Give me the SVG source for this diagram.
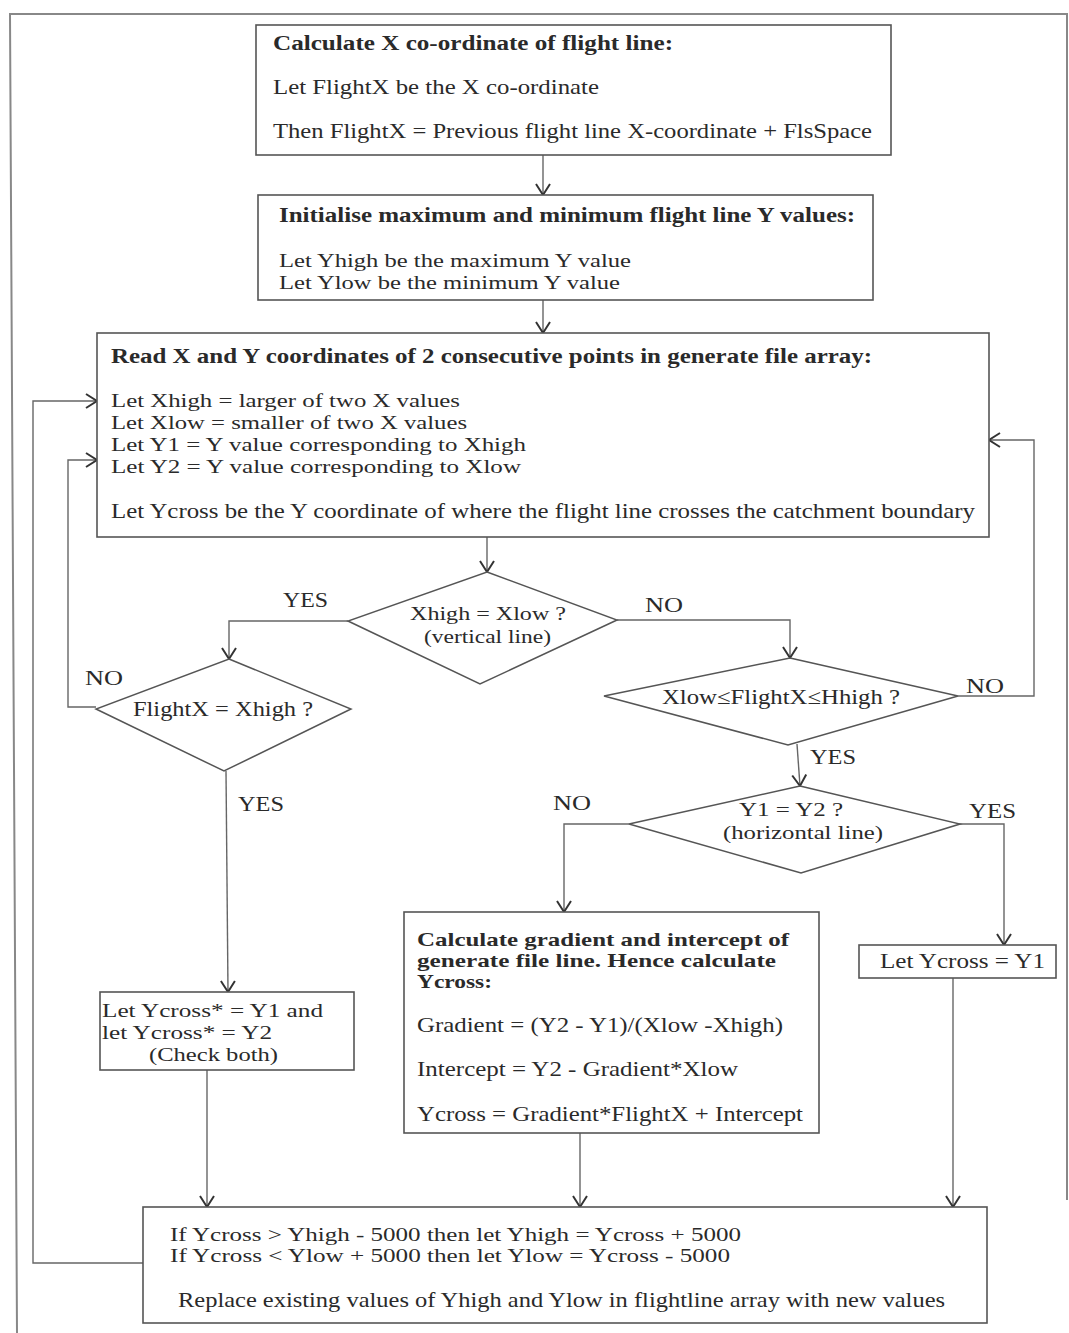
<svg xmlns="http://www.w3.org/2000/svg" width="1069" height="1333" viewBox="0 0 1069 1333">
<style>
  .box{fill:#fff;stroke:#555;stroke-width:1.6}
  .dia{fill:#fff;stroke:#555;stroke-width:1.5}
  .t{font-family:"Liberation Serif","Times New Roman",serif;font-size:21px;fill:#2a2a2a}
  .s{font-size:19.5px}
  .b{font-weight:bold;font-size:20px}
  .bs{font-size:19px}
  .lbl{font-family:"Liberation Serif","Times New Roman",serif;font-size:20px;fill:#2a2a2a}
  .c{fill:none;stroke:#666;stroke-width:1.4}
  .frame{fill:none;stroke:#888;stroke-width:2}
</style>
<defs>
  <marker id="ah" viewBox="-12 -8 14 16" refX="0" refY="0" markerWidth="14" markerHeight="16" markerUnits="userSpaceOnUse" orient="auto">
    <path d="M-11,-7 L0,0 L-11,7" fill="none" stroke="#333" stroke-width="2"/>
  </marker>
</defs>
<rect width="1069" height="1333" fill="#fff"/>
<path class="frame" d="M17,1333 L10,14 L1067,14 L1067,1200"/>

<g id="connectors">
  <path class="c" marker-end="url(#ah)" d="M543,155 L543,195"/>
  <path class="c" marker-end="url(#ah)" d="M543,300 L543,333"/>
  <path class="c" marker-end="url(#ah)" d="M487,537 L487,572"/>
  <path class="c" marker-end="url(#ah)" d="M348,621 L229,621 L229,659"/>
  <path class="c" marker-end="url(#ah)" d="M617,620 L790,620 L790,658"/>
  <path class="c" marker-end="url(#ah)" d="M96,707 L68,707 L68,460 L97,460"/>
  <path class="c" marker-end="url(#ah)" d="M226,771 L228,992"/>
  <path class="c" marker-end="url(#ah)" d="M958,696 L1034,696 L1034,440 L989,440"/>
  <path class="c" marker-end="url(#ah)" d="M797,744 L800,786"/>
  <path class="c" marker-end="url(#ah)" d="M629,824 L564,824 L564,912"/>
  <path class="c" marker-end="url(#ah)" d="M960,824 L1004,824 L1004,945"/>
  <path class="c" marker-end="url(#ah)" d="M207,1070 L207,1207"/>
  <path class="c" marker-end="url(#ah)" d="M580,1133 L580,1207"/>
  <path class="c" marker-end="url(#ah)" d="M953,978 L953,1207"/>
  <path class="c" marker-end="url(#ah)" d="M143,1263 L33,1263 L33,401 L97,401"/>
</g>

<g id="n_calcx">
  <rect class="box" x="256" y="25" width="635" height="130"/>
  <text class="t b" x="273" y="50" textLength="400" lengthAdjust="spacingAndGlyphs">Calculate X co-ordinate of flight line:</text>
  <text class="t" x="273" y="94" textLength="326" lengthAdjust="spacingAndGlyphs">Let FlightX be the X co-ordinate</text>
  <text class="t" x="273" y="138" textLength="599" lengthAdjust="spacingAndGlyphs">Then FlightX = Previous flight line X-coordinate + FlsSpace</text>
</g>

<g id="n_init">
  <rect class="box" x="258" y="195" width="615" height="105"/>
  <text class="t b" x="279" y="222" textLength="576" lengthAdjust="spacingAndGlyphs">Initialise maximum and minimum flight line Y values:</text>
  <text class="t s" x="279" y="267" textLength="352" lengthAdjust="spacingAndGlyphs">Let Yhigh be the maximum Y value</text>
  <text class="t s" x="279" y="289" textLength="341" lengthAdjust="spacingAndGlyphs">Let Ylow be the minimum Y value</text>
</g>

<g id="n_read">
  <rect class="box" x="97" y="333" width="892" height="204"/>
  <text class="t b" x="111" y="363" textLength="761" lengthAdjust="spacingAndGlyphs">Read X and Y coordinates of 2 consecutive points in generate file array:</text>
  <text class="t s" x="111" y="407" textLength="349" lengthAdjust="spacingAndGlyphs">Let Xhigh = larger of two X values</text>
  <text class="t s" x="111" y="429" textLength="356" lengthAdjust="spacingAndGlyphs">Let Xlow = smaller of two X values</text>
  <text class="t s" x="111" y="451" textLength="415" lengthAdjust="spacingAndGlyphs">Let Y1 = Y value corresponding to Xhigh</text>
  <text class="t s" x="111" y="473" textLength="410" lengthAdjust="spacingAndGlyphs">Let Y2 = Y value corresponding to Xlow</text>
  <text class="t" x="111" y="518" textLength="864" lengthAdjust="spacingAndGlyphs">Let Ycross be the Y coordinate of where the flight line crosses the catchment boundary</text>
</g>

<g id="n_vertical">
  <polygon class="dia" points="487,572 617,620 480,684 348,621"/>
  <text class="t s" x="410" y="620" textLength="156" lengthAdjust="spacingAndGlyphs">Xhigh = Xlow ?</text>
  <text class="t s" x="424" y="643" textLength="127" lengthAdjust="spacingAndGlyphs">(vertical line)</text>
</g>

<g id="n_flightx">
  <polygon class="dia" points="229,659 351,709 224,771 96,709"/>
  <text class="t" x="133" y="716" textLength="180" lengthAdjust="spacingAndGlyphs">FlightX = Xhigh ?</text>
</g>

<g id="n_range">
  <polygon class="dia" points="790,658 958,696 788,745 604,696"/>
  <text class="t" x="662" y="704" textLength="238" lengthAdjust="spacingAndGlyphs">Xlow≤FlightX≤Hhigh ?</text>
</g>

<g id="n_horizontal">
  <polygon class="dia" points="800,786 960,824 801,873 629,824"/>
  <text class="t s" x="739" y="816" textLength="104" lengthAdjust="spacingAndGlyphs">Y1 = Y2 ?</text>
  <text class="t s" x="723" y="839" textLength="160" lengthAdjust="spacingAndGlyphs">(horizontal line)</text>
</g>

<g id="labels">
  <text class="lbl" x="283" y="607" textLength="45" lengthAdjust="spacingAndGlyphs">YES</text>
  <text class="lbl" x="645" y="612" textLength="38" lengthAdjust="spacingAndGlyphs">NO</text>
  <text class="lbl" x="85" y="685" textLength="38" lengthAdjust="spacingAndGlyphs">NO</text>
  <text class="lbl" x="966" y="693" textLength="38" lengthAdjust="spacingAndGlyphs">NO</text>
  <text class="lbl" x="238" y="811" textLength="46" lengthAdjust="spacingAndGlyphs">YES</text>
  <text class="lbl" x="810" y="764" textLength="46" lengthAdjust="spacingAndGlyphs">YES</text>
  <text class="lbl" x="553" y="810" textLength="38" lengthAdjust="spacingAndGlyphs">NO</text>
  <text class="lbl" x="969" y="818" textLength="47" lengthAdjust="spacingAndGlyphs">YES</text>
</g>

<g id="n_gradient">
  <rect class="box" x="404" y="912" width="415" height="221"/>
  <text class="t b bs" x="417" y="946" textLength="372" lengthAdjust="spacingAndGlyphs">Calculate gradient and intercept of</text>
  <text class="t b bs" x="417" y="967" textLength="359" lengthAdjust="spacingAndGlyphs">generate file line.  Hence calculate</text>
  <text class="t b bs" x="417" y="988" textLength="75" lengthAdjust="spacingAndGlyphs">Ycross:</text>
  <text class="t" x="417" y="1032" textLength="366" lengthAdjust="spacingAndGlyphs">Gradient = (Y2 - Y1)/(Xlow -Xhigh)</text>
  <text class="t" x="417" y="1076" textLength="321" lengthAdjust="spacingAndGlyphs">Intercept = Y2 - Gradient*Xlow</text>
  <text class="t" x="417" y="1121" textLength="386" lengthAdjust="spacingAndGlyphs">Ycross = Gradient*FlightX + Intercept</text>
</g>

<g id="n_ycross_y1">
  <rect class="box" x="859" y="945" width="197" height="33"/>
  <text class="t" x="880" y="968" textLength="165" lengthAdjust="spacingAndGlyphs">Let Ycross = Y1</text>
</g>

<g id="n_checkboth">
  <rect class="box" x="100" y="992" width="254" height="78"/>
  <text class="t s" x="102" y="1017" textLength="221" lengthAdjust="spacingAndGlyphs">Let Ycross* = Y1 and</text>
  <text class="t s" x="102" y="1039" textLength="170" lengthAdjust="spacingAndGlyphs">let Ycross* = Y2</text>
  <text class="t s" x="149" y="1061" textLength="129" lengthAdjust="spacingAndGlyphs">(Check both)</text>
</g>

<g id="n_update">
  <rect class="box" x="143" y="1207" width="844" height="116"/>
  <text class="t s" x="170" y="1241" textLength="571" lengthAdjust="spacingAndGlyphs">If Ycross &gt; Yhigh - 5000 then let Yhigh = Ycross + 5000</text>
  <text class="t s" x="170" y="1262" textLength="560" lengthAdjust="spacingAndGlyphs">If Ycross &lt; Ylow + 5000 then let Ylow = Ycross - 5000</text>
  <text class="t" x="178" y="1307" textLength="767" lengthAdjust="spacingAndGlyphs">Replace existing values of Yhigh and Ylow in flightline array with new values</text>
</g>
</svg>
